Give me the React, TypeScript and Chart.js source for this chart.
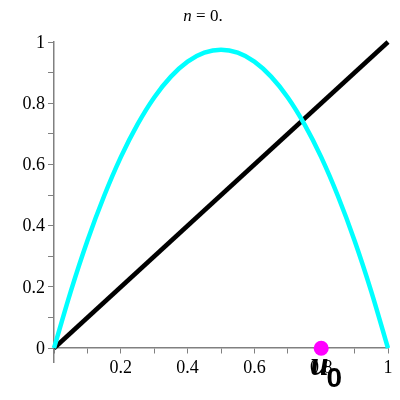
import React, { useEffect, useRef } from "react";
import { Chart, registerables } from "chart.js";

Chart.register(...registerables);

// Logistic-map curve samples
const curveX = [0, 0.05, 0.1, 0.15, 0.2, 0.25, 0.3, 0.35, 0.4, 0.45, 0.5, 0.55, 0.6, 0.65, 0.7, 0.75, 0.8, 0.85, 0.9, 0.95, 1];
const curveY = [0, 0.185, 0.351, 0.497, 0.624, 0.731, 0.819, 0.887, 0.936, 0.965, 0.975, 0.965, 0.936, 0.887, 0.819, 0.731, 0.624, 0.497, 0.351, 0.185, 0];
// Diagonal y = x
const diagX = [0, 1];
const diagY = [0, 1];
// Starting point u0
const u0X = [0.8];
const u0Y = [0];
// Ticks
const tickValues = [0, 0.1, 0.2, 0.3, 0.4, 0.5, 0.6, 0.7, 0.8, 0.9, 1];
const xLabels = ["", "", "0.2", "", "0.4", "", "0.6", "", "0.8", "", "1"];
const yLabels = ["0", "", "0.2", "", "0.4", "", "0.6", "", "0.8", "", "1"];
const titleParts = ["n", " = 0."];
const pointLabel = ["u", "0"];

const overlay = {
  id: "overlay",
  afterDraw(chart: any) {
    const ctx = chart.ctx;
    const xs = chart.scales.x;
    const ys = chart.scales.y;
    const x0 = xs.getPixelForValue(0);
    const y0 = ys.getPixelForValue(0);
    ctx.save();
    ctx.fillStyle = "#000";
    // tick labels
    ctx.font = "18px 'Liberation Serif'";
    ctx.textAlign = "right";
    ctx.textBaseline = "middle";
    tickValues.forEach((v, i) => {
      if (yLabels[i]) ctx.fillText(yLabels[i], x0 - 9, ys.getPixelForValue(v) + 1);
    });
    ctx.textAlign = "center";
    ctx.textBaseline = "alphabetic";
    tickValues.forEach((v, i) => {
      if (xLabels[i]) ctx.fillText(xLabels[i], xs.getPixelForValue(v), y0 + 25);
    });
    // title
    ctx.textAlign = "left";
    ctx.font = "italic 17px 'Liberation Serif'";
    const w1 = ctx.measureText(titleParts[0]).width;
    ctx.font = "17px 'Liberation Serif'";
    const w2 = ctx.measureText(titleParts[1]).width;
    const cx = 203;
    const tx = cx - (w1 + w2) / 2;
    ctx.font = "italic 17px 'Liberation Serif'";
    ctx.fillText(titleParts[0], tx, 21);
    ctx.font = "17px 'Liberation Serif'";
    ctx.fillText(titleParts[1], tx + w1, 21);
    // point label u0
    const px = xs.getPixelForValue(u0X[0]);
    const py = ys.getPixelForValue(u0Y[0]);
    ctx.font = "bold italic 33px 'Liberation Serif'";
    const uw = ctx.measureText(pointLabel[0]).width;
    const ux = px - 11;
    ctx.fillText(pointLabel[0], ux, py + 27);
    ctx.font = "bold 28px 'Liberation Sans'";
    ctx.fillText(pointLabel[1], ux + uw - 2, py + 39);
    ctx.restore();
  },
};

export default function App() {
  const ref = useRef<HTMLCanvasElement>(null);
  useEffect(() => {
    const setTicks = (scale: any) => {
      scale.ticks = tickValues.map((v) => ({ value: v }));
    };
    const chart = new Chart(ref.current!, {
      type: "scatter",
      data: {
        datasets: [
          {
            data: diagX.map((x, i) => ({ x, y: diagY[i] })),
            showLine: true,
            borderColor: "#000000",
            borderWidth: 4.5,
            pointRadius: 0,
            clip: false,
            order: 2,
          },
          {
            data: curveX.map((x, i) => ({ x, y: curveY[i] })),
            showLine: true,
            borderColor: "#00ffff",
            borderWidth: 4.5,
            pointRadius: 0,
            cubicInterpolationMode: "monotone",
            clip: false,
            order: 1,
          },
          {
            data: u0X.map((x, i) => ({ x, y: u0Y[i] })),
            pointRadius: 7.5,
            pointBackgroundColor: "#ff00ff",
            pointBorderWidth: 0,
            clip: false,
            order: 0,
          },
        ] as any,
      },
      options: {
        animation: false,
        responsive: true,
        maintainAspectRatio: false,
        events: [],
        layout: { padding: { left: 54, right: 12, top: 42, bottom: 38 } },
        plugins: { legend: { display: false }, tooltip: { enabled: false }, title: { display: false } },
        scales: {
          x: {
            type: "linear",
            min: 0,
            max: 1,
            position: { y: 0 } as any,
            afterBuildTicks: setTicks,
            grid: { display: true, drawOnChartArea: false, drawTicks: true, tickLength: 5, color: "#808080", tickWidth: 1 },
            border: { display: true, color: "#808080", width: 1.5 },
            ticks: { display: false },
          },
          y: {
            type: "linear",
            min: -0.045,
            max: 1,
            position: { x: 0 } as any,
            afterBuildTicks: setTicks,
            grid: { display: true, drawOnChartArea: false, drawTicks: true, tickLength: 5, color: "#808080", tickWidth: 1 },
            border: { display: true, color: "#808080", width: 1.5 },
            ticks: { display: false },
          },
        },
      },
      plugins: [overlay],
    });
    return () => chart.destroy();
  }, []);
  return (
    <div style={{ position: "fixed", left: 0, top: 0, width: 400, height: 400, background: "#fff" }}>
      <canvas ref={ref} />
    </div>
  );
}
